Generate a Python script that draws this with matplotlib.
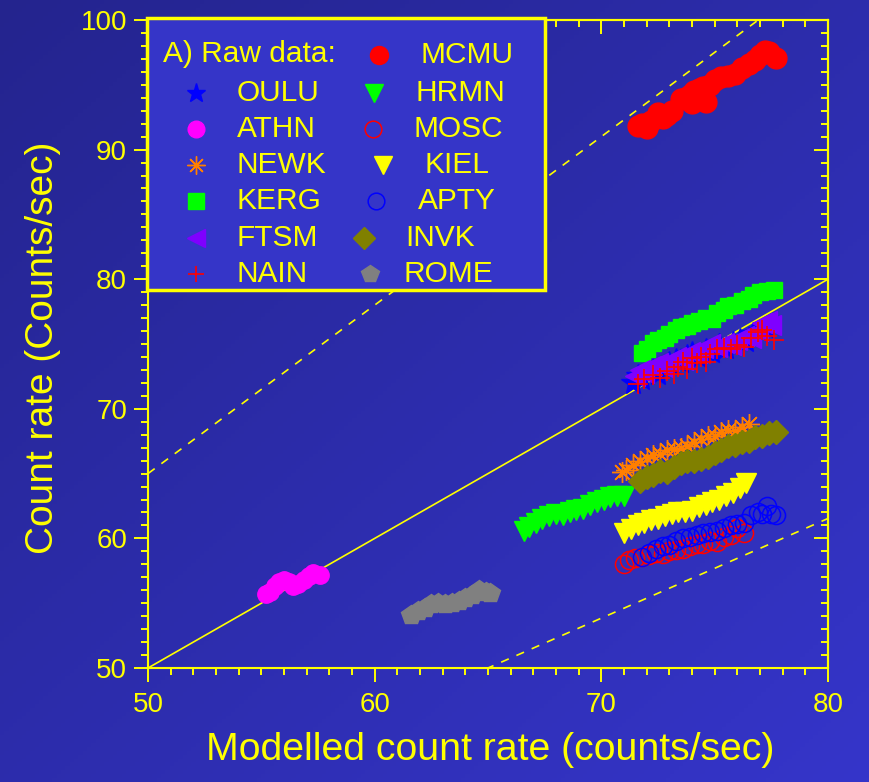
import numpy as np
import matplotlib
matplotlib.use("Agg")
import matplotlib.pyplot as plt
from matplotlib.lines import Line2D
from matplotlib.patches import Rectangle
from matplotlib.ticker import MultipleLocator

plt.rcParams['font.family'] = ['Liberation Sans', 'DejaVu Sans']

# ---- station data: modelled vs. observed count rate (counts/sec) ----
oulu_x = [71.4, 71.6, 71.8, 72.0, 72.3, 72.5, 72.8, 73.0, 73.3, 73.5, 73.8, 74.0, 74.3, 74.6, 74.9, 75.2, 75.5, 75.8, 76.1, 76.4, 76.7, 77.0, 77.3]
oulu_y = [72.0, 72.5, 72.3, 72.8, 73.0, 72.7, 73.3, 73.5, 73.8, 73.6, 74.1, 74.3, 74.0, 74.5, 74.4, 74.9, 74.7, 75.1, 75.3, 75.2, 75.8, 76.0, 76.2]

athn_x = [55.2, 55.4, 55.6, 55.8, 56.0, 56.2, 56.4, 56.6, 56.9, 57.1, 57.3, 57.6]
athn_y = [55.7, 55.9, 56.3, 56.6, 56.8, 56.6, 56.3, 56.5, 56.8, 57.1, 57.3, 57.2]

newk_x = [70.9, 71.1, 71.4, 71.7, 72.0, 72.3, 72.6, 72.9, 73.2, 73.5, 73.8, 74.1, 74.4, 74.7, 75.0, 75.3, 75.6, 75.9, 76.2, 76.5]
newk_y = [65.1, 65.3, 65.7, 66.0, 66.2, 66.4, 66.5, 66.8, 66.9, 67.0, 67.1, 67.4, 67.7, 67.9, 67.9, 68.2, 68.4, 68.3, 68.6, 68.8]

kerg_x = [71.8, 72.0, 72.3, 72.5, 72.8, 73.0, 73.3, 73.5, 73.8, 74.0, 74.3, 74.6, 74.9, 75.1, 75.4, 75.6, 75.9, 76.2, 76.5, 76.7, 77.0, 77.3, 77.6]
kerg_y = [74.3, 74.6, 75.1, 75.3, 75.5, 75.8, 76.1, 76.3, 76.4, 76.6, 76.8, 77.0, 76.9, 77.4, 77.6, 77.9, 78.0, 78.3, 78.5, 78.8, 79.0, 79.1, 79.2]

ftsm_x = [71.5, 71.7, 71.9, 72.2, 72.5, 72.7, 73.0, 73.3, 73.6, 73.9, 74.2, 74.5, 74.8, 75.1, 75.4, 75.7, 76.0, 76.3, 76.6, 76.9, 77.1, 77.3, 77.5]
ftsm_y = [72.5, 73.0, 72.8, 73.3, 73.5, 73.2, 73.7, 74.0, 73.8, 74.4, 74.3, 74.7, 75.0, 74.8, 75.1, 74.9, 75.3, 75.6, 75.5, 76.0, 76.6, 76.8, 76.5]

nain_x = [71.6, 71.9, 72.3, 72.6, 72.9, 73.2, 73.4, 73.6, 73.8, 74.0, 74.2, 74.4, 74.6, 74.8, 75.1, 75.4, 75.7, 76.0, 76.3, 76.6, 76.9, 77.1, 77.3, 77.6]
nain_y = [71.9, 72.3, 72.6, 72.4, 72.9, 72.7, 73.2, 73.6, 73.1, 73.9, 73.5, 74.0, 73.6, 74.2, 74.6, 74.7, 74.6, 74.9, 74.8, 75.5, 75.9, 76.1, 75.6, 75.3]

mcmu_x = [71.6, 71.8, 72.0, 72.2, 72.5, 72.7, 72.9, 73.1, 73.5, 73.7, 73.9, 74.0, 74.1, 74.2, 74.3, 74.4, 74.5, 74.6, 74.7, 74.8, 75.0, 75.3, 75.6, 75.9, 76.2, 76.5, 76.8, 77.0, 77.2, 77.4, 77.7]
mcmu_y = [91.8, 92.0, 91.7, 92.2, 92.8, 92.4, 92.7, 93.0, 93.9, 94.0, 94.2, 93.6, 94.5, 93.8, 94.7, 93.9, 94.8, 93.7, 94.9, 95.0, 95.4, 95.6, 95.7, 95.8, 96.3, 96.6, 96.9, 97.3, 97.6, 97.5, 97.1]

hrmn_x = [66.6, 66.8, 67.1, 67.4, 67.7, 68.0, 68.3, 68.6, 68.9, 69.2, 69.5, 69.8, 70.1, 70.4, 70.7, 71.0]
hrmn_y = [60.6, 60.9, 61.2, 61.5, 61.7, 61.9, 61.8, 62.0, 62.2, 62.3, 62.6, 62.8, 63.0, 63.2, 63.3, 63.3]

mosc_x = [71.0, 71.2, 71.5, 71.8, 72.1, 72.4, 72.7, 73.0, 73.3, 73.6, 73.9, 74.2, 74.5, 74.8, 75.1, 75.4, 75.7, 76.0, 76.3]
mosc_y = [58.0, 58.3, 58.5, 58.6, 58.7, 58.9, 58.8, 59.0, 59.1, 59.2, 59.4, 59.6, 59.6, 59.8, 59.7, 60.1, 60.3, 60.8, 60.4]

kiel_x = [71.0, 71.3, 71.6, 71.9, 72.2, 72.5, 72.8, 73.1, 73.4, 73.7, 74.0, 74.3, 74.6, 74.9, 75.2, 75.5, 75.8, 76.1, 76.4]
kiel_y = [60.4, 60.7, 61.0, 61.2, 61.4, 61.5, 61.7, 61.9, 62.0, 62.0, 62.1, 62.4, 62.6, 62.8, 63.0, 63.3, 63.5, 63.9, 64.3]

apty_x = [71.8, 72.1, 72.4, 72.7, 73.0, 73.3, 73.6, 73.9, 74.2, 74.5, 74.8, 75.1, 75.4, 75.7, 76.0, 76.3, 76.6, 76.9, 77.1, 77.3, 77.5, 77.7]
apty_y = [58.6, 58.9, 59.2, 59.4, 59.5, 59.8, 60.0, 60.1, 60.3, 60.4, 60.5, 60.6, 60.8, 61.0, 61.1, 61.2, 61.8, 62.0, 61.9, 62.5, 61.9, 61.8]

invk_x = [71.7, 72.0, 72.3, 72.6, 72.9, 73.2, 73.5, 73.8, 74.1, 74.4, 74.7, 75.0, 75.3, 75.6, 75.9, 76.2, 76.5, 76.8, 77.1, 77.4, 77.7]
invk_y = [64.4, 64.7, 64.9, 65.2, 65.1, 65.5, 65.8, 66.0, 66.0, 66.1, 66.3, 66.6, 66.8, 67.1, 67.2, 67.4, 67.5, 67.8, 67.9, 68.1, 68.2]

rome_x = [61.6, 61.9, 62.2, 62.5, 62.8, 63.1, 63.4, 63.7, 64.0, 64.3, 64.6, 64.9, 65.1]
rome_y = [54.1, 54.4, 54.6, 54.9, 55.0, 54.9, 55.0, 55.2, 55.4, 55.6, 56.0, 55.9, 55.8]

# reference lines: y = x and the +/-30 % envelope
ref_x = [50, 80]
ratio_hi = 1.3
ratio_lo = 1 / 1.3

YEL = '#ffff00'

# marker styles per station
styles = {
    'OULU': dict(marker='*', color='#0000ff', ms=18, mec='#0000ff'),
    'ATHN': dict(marker='o', color='#ff00ff', ms=12.5, mec='#ff00ff'),
    'NEWK': dict(marker=(8, 2, 0), color='#ff7f00', ms=15, mec='#ff7f00', mew=1.0),
    'KERG': dict(marker='s', color='#00ff00', ms=12, mec='#00ff00'),
    'FTSM': dict(marker='<', color='#7f00ff', ms=15, mec='#7f00ff'),
    'NAIN': dict(marker='+', color='#ff0000', ms=14, mec='#ff0000', mew=1.2),
    'MCMU': dict(marker='o', color='#ff0000', ms=15, mec='#ff0000'),
    'HRMN': dict(marker='v', color='#00ff00', ms=15, mec='#00ff00'),
    'MOSC': dict(marker='o', color='#ff0000', ms=13, mfc='none', mec='#ff0000', mew=1.1),
    'KIEL': dict(marker='v', color='#ffff00', ms=15, mec='#ffff00'),
    'APTY': dict(marker='o', color='#0000ff', ms=13, mfc='none', mec='#0000ff', mew=1.1),
    'INVK': dict(marker='D', color='#808000', ms=12.5, mec='#808000'),
    'ROME': dict(marker='p', color='#808080', ms=15, mec='#808080'),
}
series = [
    ('OULU', oulu_x, oulu_y), ('ATHN', athn_x, athn_y), ('NEWK', newk_x, newk_y),
    ('KERG', kerg_x, kerg_y), ('FTSM', ftsm_x, ftsm_y), ('NAIN', nain_x, nain_y),
    ('MCMU', mcmu_x, mcmu_y), ('HRMN', hrmn_x, hrmn_y), ('MOSC', mosc_x, mosc_y),
    ('KIEL', kiel_x, kiel_y), ('APTY', apty_x, apty_y), ('INVK', invk_x, invk_y),
    ('ROME', rome_x, rome_y),
]

W, H = 870, 782
fig = plt.figure(figsize=(W / 100, H / 100), dpi=100)

# diagonal blue background
bg = fig.add_axes([0, 0, 1, 1], zorder=-10)
gy, gx = np.mgrid[0:1:200j, 0:1:200j]
t = (gx + gy) / 2
c0 = np.array([0x24, 0x24, 0x8e]) / 255
c1 = np.array([0x35, 0x35, 0xca]) / 255
img = c0[None, None, :] * (1 - t[..., None]) + c1[None, None, :] * t[..., None]
bg.imshow(img, aspect='auto', extent=[0, 1, 0, 1], origin='upper')
bg.set_axis_off()

ax = fig.add_axes([148 / W, 1 - 668 / H, 680 / W, 648 / H])
ax.set_facecolor('none')
ax.set_xlim(50, 80)
ax.set_ylim(50, 100)

# reference lines
rx = np.array(ref_x, dtype=float)
ax.plot(rx, rx, color=YEL, lw=1.2, zorder=1)
ax.plot(rx, rx * ratio_hi, color=YEL, lw=1.2, ls=(0, (5, 5)), zorder=1)
ax.plot(rx, rx * ratio_lo, color=YEL, lw=1.2, ls=(0, (5, 5)), zorder=1)

for name, xs, ys in series:
    st = dict(styles[name])
    ax.plot(xs, ys, ls='none', zorder=2, **st)

# axes styling
for sp in ax.spines.values():
    sp.set_color(YEL)
    sp.set_linewidth(1.5)
ax.xaxis.set_major_locator(MultipleLocator(10))
ax.xaxis.set_minor_locator(MultipleLocator(1))
ax.yaxis.set_major_locator(MultipleLocator(10))
ax.yaxis.set_minor_locator(MultipleLocator(1))
ax.tick_params(which='both', direction='out', colors=YEL, width=1.4,
               labelsize=20, labelcolor=YEL)
ax.tick_params(which='major', length=10)
ax.tick_params(which='minor', length=5)
ax.tick_params(axis='x', pad=7)
ax.tick_params(axis='y', pad=5)

# mirrored ticks on top and right, pointing inward
top = ax.secondary_xaxis('top')
right = ax.secondary_yaxis('right')
for sa, axis in ((top, top.xaxis), (right, right.yaxis)):
    axis.set_major_locator(MultipleLocator(10))
    axis.set_minor_locator(MultipleLocator(1))
    sa.tick_params(which='both', direction='in', colors=YEL, width=1.4,
                   labelleft=False, labelright=False, labeltop=False, labelbottom=False)
    sa.tick_params(which='major', length=10)
    sa.tick_params(which='minor', length=5)
    for sp in sa.spines.values():
        sp.set_color(YEL)
        sp.set_linewidth(1.5)

fig.text(43 / W, 1 - 348 / H, 'Count rate (Counts/sec)', rotation=90,
         color=YEL, fontsize=28, ha='center', va='center')
fig.text(490 / W, 1 - 750 / H, 'Modelled count rate (counts/sec)',
         color=YEL, fontsize=28.3, ha='center', va='center')

# legend panel
def fpos(px, py):
    return px / W, 1 - py / H

x0, y0 = fpos(147, 290)
x1, y1 = fpos(545, 18)
fig.patches.append(Rectangle((x0, y0), x1 - x0, y1 - y0, transform=fig.transFigure,
                             facecolor='#3535c8', edgecolor=YEL, lw=2.5, zorder=5))

fig.text(*fpos(163, 54), 'A) Raw data:', color=YEL, fontsize=21.5,
         ha='left', va='center', zorder=6)

legend_items = [
    ('MCMU', 379, 55, 421), ('OULU', 196, 93, 237), ('HRMN', 374, 93, 416),
    ('ATHN', 196, 129, 237), ('MOSC', 373, 129, 414), ('NEWK', 196, 165, 237),
    ('KIEL', 383, 165, 425), ('KERG', 196, 201, 237), ('APTY', 376, 201, 418),
    ('FTSM', 196, 238, 237), ('INVK', 364, 238, 405), ('NAIN', 196, 274, 237),
    ('ROME', 370, 274, 404),
]
legend_ms = {'OULU': 14, 'ATHN': 12, 'NEWK': 13, 'KERG': 11, 'FTSM': 13,
             'NAIN': 12, 'MCMU': 13, 'HRMN': 13, 'MOSC': 12, 'KIEL': 13,
             'APTY': 12, 'INVK': 11, 'ROME': 13}
for name, mx, my, tx in legend_items:
    st = dict(styles[name])
    st['ms'] = legend_ms[name]
    fx, fy = fpos(mx, my)
    fig.add_artist(Line2D([fx], [fy], transform=fig.transFigure, ls='none',
                          zorder=6, **st))
    fig.text(*fpos(tx, my), name, color=YEL, fontsize=21.5,
             ha='left', va='center', zorder=6)

fig.savefig('out.png', dpi=100)
